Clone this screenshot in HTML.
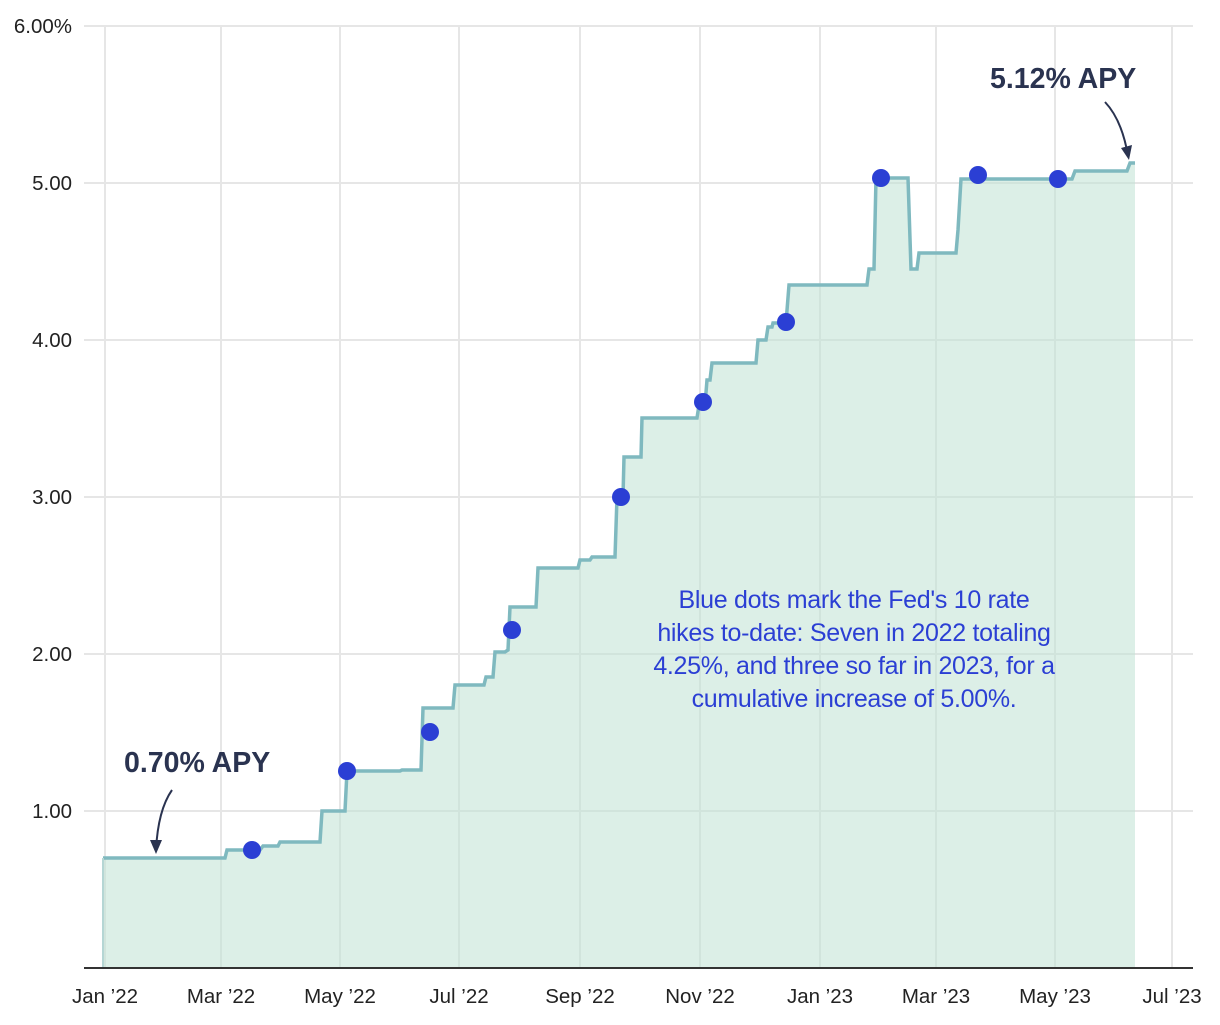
<!DOCTYPE html>
<html><head><meta charset="utf-8"><style>
body{margin:0;background:#fff}
svg text{font-family:"Liberation Sans",sans-serif}
</style></head><body>
<svg width="1220" height="1020" viewBox="0 0 1220 1020" xmlns="http://www.w3.org/2000/svg">
<g stroke="#e6e6e6" stroke-width="2">
<line x1="84" y1="26" x2="1193" y2="26"/><line x1="84" y1="183" x2="1193" y2="183"/><line x1="84" y1="340" x2="1193" y2="340"/><line x1="84" y1="497" x2="1193" y2="497"/><line x1="84" y1="654" x2="1193" y2="654"/><line x1="84" y1="811" x2="1193" y2="811"/>
<line x1="105" y1="26" x2="105" y2="968"/><line x1="221" y1="26" x2="221" y2="968"/><line x1="340" y1="26" x2="340" y2="968"/><line x1="459" y1="26" x2="459" y2="968"/><line x1="580" y1="26" x2="580" y2="968"/><line x1="700" y1="26" x2="700" y2="968"/><line x1="820" y1="26" x2="820" y2="968"/><line x1="936" y1="26" x2="936" y2="968"/><line x1="1055" y1="26" x2="1055" y2="968"/><line x1="1172" y1="26" x2="1172" y2="968"/>
</g>
<path d="M103 858 L225 858 L227 850 L260 850 L263 846 L278 846 L280 842 L320 842 L322 811 L345 811 L347 771 L400 771 L402 770 L421 770 L423 708 L453 708 L455 685 L484 685 L486 677 L493 677 L495 652 L505 652 L508 650 L510 607 L536 607 L538 568 L578 568 L580 560 L590 560 L592 557 L615 557 L617 497 L623 497 L624 457 L641 457 L642 418 L697 418 L699 405 L705 405 L707 380 L710 380 L712 363 L756 363 L758 340 L766 340 L768 327 L772 327 L773 323 L786 323 L789 285 L867 285 L869 269 L874 269 L876 178 L908 178 L911 269 L917 269 L919 253 L956 253 L958 230 L961 179 L1072 179 L1075 171 L1127 171 L1130 163 L1135 163 L1135 968 L103 968 Z" fill="#bfe2d3" fill-opacity="0.55"/>
<path d="M103 858 L225 858 L227 850 L260 850 L263 846 L278 846 L280 842 L320 842 L322 811 L345 811 L347 771 L400 771 L402 770 L421 770 L423 708 L453 708 L455 685 L484 685 L486 677 L493 677 L495 652 L505 652 L508 650 L510 607 L536 607 L538 568 L578 568 L580 560 L590 560 L592 557 L615 557 L617 497 L623 497 L624 457 L641 457 L642 418 L697 418 L699 405 L705 405 L707 380 L710 380 L712 363 L756 363 L758 340 L766 340 L768 327 L772 327 L773 323 L786 323 L789 285 L867 285 L869 269 L874 269 L876 178 L908 178 L911 269 L917 269 L919 253 L956 253 L958 230 L961 179 L1072 179 L1075 171 L1127 171 L1130 163 L1135 163" fill="none" stroke="#7fb9bf" stroke-width="3.5"/>
<line x1="103" y1="858" x2="103" y2="968" stroke="#b5d6d4" stroke-width="2"/>
<line x1="84" y1="968" x2="1193" y2="968" stroke="#333" stroke-width="2"/>
<g fill="#2b3fd4">
<circle cx="252" cy="850" r="9"/><circle cx="347" cy="771" r="9"/><circle cx="430" cy="732" r="9"/><circle cx="512" cy="630" r="9"/><circle cx="621" cy="497" r="9"/><circle cx="703" cy="402" r="9"/><circle cx="786" cy="322" r="9"/><circle cx="881" cy="178" r="9"/><circle cx="978" cy="175" r="9"/><circle cx="1058" cy="179" r="9"/>
</g>
<g font-size="20.5" fill="#222" text-anchor="end">
<text x="72" y="33">6.00%</text><text x="72" y="190">5.00</text><text x="72" y="347">4.00</text><text x="72" y="504">3.00</text><text x="72" y="661">2.00</text><text x="72" y="818">1.00</text>
</g>
<g font-size="20.5" fill="#222" text-anchor="middle">
<text x="105" y="1003">Jan ’22</text><text x="221" y="1003">Mar ’22</text><text x="340" y="1003">May ’22</text><text x="459" y="1003">Jul ’22</text><text x="580" y="1003">Sep ’22</text><text x="700" y="1003">Nov ’22</text><text x="820" y="1003">Jan ’23</text><text x="936" y="1003">Mar ’23</text><text x="1055" y="1003">May ’23</text><text x="1172" y="1003">Jul ’23</text>
</g>
<g font-size="28.5" font-weight="bold" fill="#2a3350">
<text x="124" y="772">0.70% APY</text><text x="990" y="88">5.12% APY</text>
</g>
<g fill="none" stroke="#2a3350" stroke-width="2">
<path d="M172 790 Q158 810 156 850"/><path d="M1105 102 Q1122 120 1128 156"/>
</g>
<g fill="#2a3350"><path d="M150 840 L156 854 L162 840 Z"/><path d="M1121 148 L1129 160 L1132 145 Z"/></g>
<g font-size="25" fill="#2b3fd4" text-anchor="middle" letter-spacing="-0.3">
<text x="854" y="608">Blue dots mark the Fed's 10 rate</text>
<text x="854" y="641">hikes to-date: Seven in 2022 totaling</text>
<text x="854" y="674">4.25%, and three so far in 2023, for a</text>
<text x="854" y="707">cumulative increase of 5.00%.</text>
</g>
</svg>
</body></html>
